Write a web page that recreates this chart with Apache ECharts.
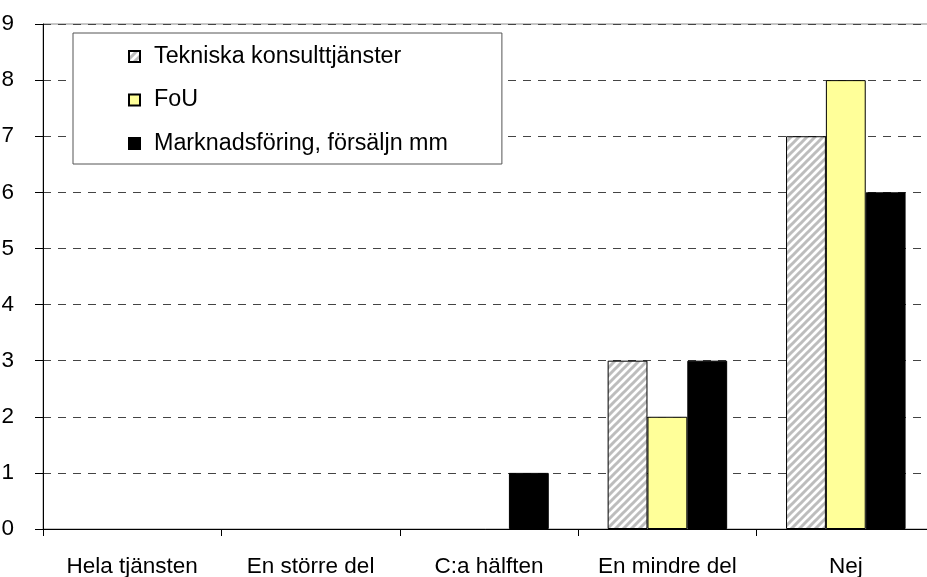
<!DOCTYPE html>
<html>
<head>
<meta charset="utf-8">
<script src="https://cdn.jsdelivr.net/npm/echarts@6/dist/echarts.min.js"></script>
<style>
html,body{margin:0;padding:0;background:#fff;}
#chart{width:927px;height:577px;}
</style>
</head>
<body>
<div id="chart"></div>
<script>
var categories = ['Hela tjänsten', 'En större del', 'C:a hälften', 'En mindre del', 'Nej'];
var seriesNames = ['Tekniska konsulttjänster', 'FoU', 'Marknadsföring, försäljn mm'];
var tekniska = [0, 0, 0, 3, 7];
var fou = [0, 0, 0, 2, 8];
var marknad = [0, 0, 1, 3, 6];
var yTicks = [0, 1, 2, 3, 4, 5, 6, 7, 8, 9];

// hatch pattern
var tile = document.createElement('canvas');
tile.width = 8; tile.height = 8;
var g = tile.getContext('2d');
g.fillStyle = '#ffffff';
g.fillRect(0, 0, 8, 8);
g.strokeStyle = '#bdbdbd';
g.lineWidth = 3;
g.beginPath();
g.moveTo(-2, 10); g.lineTo(10, -2);
g.moveTo(-6, 6); g.lineTo(6, -6);
g.moveTo(2, 14); g.lineTo(14, 2);
g.stroke();

var FONT = '"Liberation Sans", Arial, sans-serif';
var chart = echarts.init(document.getElementById('chart'), null, {renderer: 'canvas'});
var barStyle = function (color) {
  return {color: color, borderColor: '#000', borderWidth: 1};
};
// hide zero-height bars like the original (value kept, nothing drawn)
var toData = function (arr) {
  return arr.map(function (v) {
    return v === 0 ? {value: v, itemStyle: {opacity: 0}} : v;
  });
};
chart.setOption({
  animation: false,
  backgroundColor: '#fff',
  grid: {
    left: 43, top: 24, width: 892, height: 505,
    outerBoundsMode: 'none',
    containLabel: false,
    show: true, borderColor: '#8c8c8c', borderWidth: 1, backgroundColor: 'transparent'
  },
  legend: {
    orient: 'vertical',
    left: 73, top: 33,
    padding: [12, 54, 9, 55],
    itemGap: 20.5,
    itemWidth: 11, itemHeight: 11,
    backgroundColor: '#fff',
    borderColor: '#555',
    borderWidth: 1,
    icon: 'rect',
    data: seriesNames,
    textStyle: {fontFamily: FONT, fontSize: 23.3, color: '#000', lineHeight: 23, padding: [0, 0, 0, 9]}
  },
  xAxis: {
    type: 'category',
    data: categories,
    z: 5,
    axisLine: {lineStyle: {color: '#000', width: 1}},
    axisTick: {show: true, alignWithLabel: false, length: 7, lineStyle: {color: '#000'}},
    axisLabel: {fontFamily: FONT, fontSize: 22.5, color: '#000', margin: 26, interval: 0},
    splitLine: {show: false}
  },
  yAxis: {
    type: 'value',
    min: yTicks[0], max: yTicks[yTicks.length - 1], interval: 1,
    axisLine: {show: true, lineStyle: {color: '#000', width: 1}},
    axisTick: {show: true, length: 8, lineStyle: {color: '#000'}},
    axisLabel: {fontFamily: FONT, fontSize: 22.5, color: '#000', margin: 29},
    splitLine: {show: true, lineStyle: {color: '#444', type: [8, 7], width: 1}}
  },
  series: [
    {name: seriesNames[0], type: 'bar', data: toData(tekniska), barGap: '0%', barCategoryGap: '33%',
     itemStyle: barStyle({image: tile, repeat: 'repeat'})},
    {name: seriesNames[1], type: 'bar', data: toData(fou), barGap: '0%', barCategoryGap: '33%',
     itemStyle: barStyle('#ffff99')},
    {name: seriesNames[2], type: 'bar', data: toData(marknad), barGap: '0%', barCategoryGap: '33%',
     itemStyle: barStyle('#000000')}
  ]
});
</script>
</body>
</html>
